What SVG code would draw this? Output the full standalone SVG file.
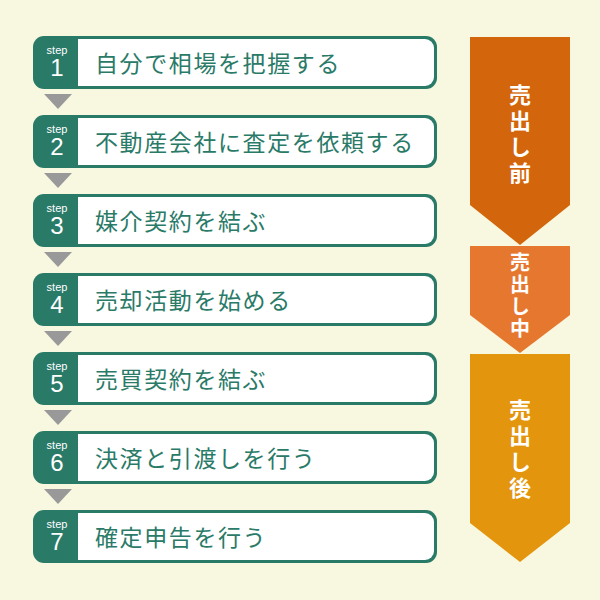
<svg xmlns="http://www.w3.org/2000/svg" width="600" height="600" viewBox="0 0 600 600">
<defs>
<style>
.bg{fill:#f8f8e1}
.outer{fill:#2a7a68}
.inner{fill:#ffffff}
.step{font-family:"Liberation Sans",Arial,sans-serif;font-size:11px;fill:#ffffff;text-anchor:middle}
.num{font-family:"Liberation Sans",Arial,sans-serif;font-size:24px;fill:#ffffff;text-anchor:middle}
.lbl{font-family:"Noto Sans CJK JP","Noto Sans",sans-serif;font-size:23px;letter-spacing:1.6px;fill:#2a7a68}
.tri{fill:#999999}
.ph{font-family:"Noto Sans CJK JP","Noto Sans",sans-serif;font-size:22px;font-weight:bold;fill:#ffffff;writing-mode:vertical-rl;letter-spacing:4px}
</style>
<g id="box">
<rect class="outer" x="33" y="0" width="404" height="53" rx="11"/>
<path class="inner" d="M78 3 H425 A9 9 0 0 1 434 12 V41 A9 9 0 0 1 425 50 H78 Z"/>
<text class="step" x="57" y="18">step</text>
</g>
</defs>
<rect class="bg" x="0" y="0" width="600" height="600"/>
<g id="connectors">
<polygon class="tri" points="44,94 72,94 58,109"/>
<polygon class="tri" points="44,173 72,173 58,188"/>
<polygon class="tri" points="44,252 72,252 58,267"/>
<polygon class="tri" points="44,331 72,331 58,346"/>
<polygon class="tri" points="44,410 72,410 58,425"/>
<polygon class="tri" points="44,489 72,489 58,504"/>
</g>
<g id="step1"><use href="#box" y="36"/><text class="num" x="57" y="76">1</text><text class="lbl" x="95" y="72">自分で相場を把握する</text></g>
<g id="step2"><use href="#box" y="115"/><text class="num" x="57" y="155">2</text><text class="lbl" x="95" y="151">不動産会社に査定を依頼する</text></g>
<g id="step3"><use href="#box" y="194"/><text class="num" x="57" y="234">3</text><text class="lbl" x="95" y="230">媒介契約を結ぶ</text></g>
<g id="step4"><use href="#box" y="273"/><text class="num" x="57" y="313">4</text><text class="lbl" x="95" y="309">売却活動を始める</text></g>
<g id="step5"><use href="#box" y="352"/><text class="num" x="57" y="392">5</text><text class="lbl" x="95" y="388">売買契約を結ぶ</text></g>
<g id="step6"><use href="#box" y="431"/><text class="num" x="57" y="471">6</text><text class="lbl" x="95" y="467">決済と引渡しを行う</text></g>
<g id="step7"><use href="#box" y="510"/><text class="num" x="57" y="550">7</text><text class="lbl" x="95" y="546">確定申告を行う</text></g>
<g id="phase1">
<polygon points="470,37 570,37 570,205 520,245 470,205" fill="#d3650c"/>
<text class="ph" x="520" y="84">売出し前</text>
</g>
<g id="phase2">
<polygon points="470,246 570,246 570,315 520,353 470,315" fill="#e6772e"/>
<text class="ph" x="520" y="252" style="font-size:20px;letter-spacing:2px">売出し中</text>
</g>
<g id="phase3">
<polygon points="470,354 570,354 570,523 520,562 470,523" fill="#e3950e"/>
<text class="ph" x="520" y="399">売出し後</text>
</g>
</svg>
